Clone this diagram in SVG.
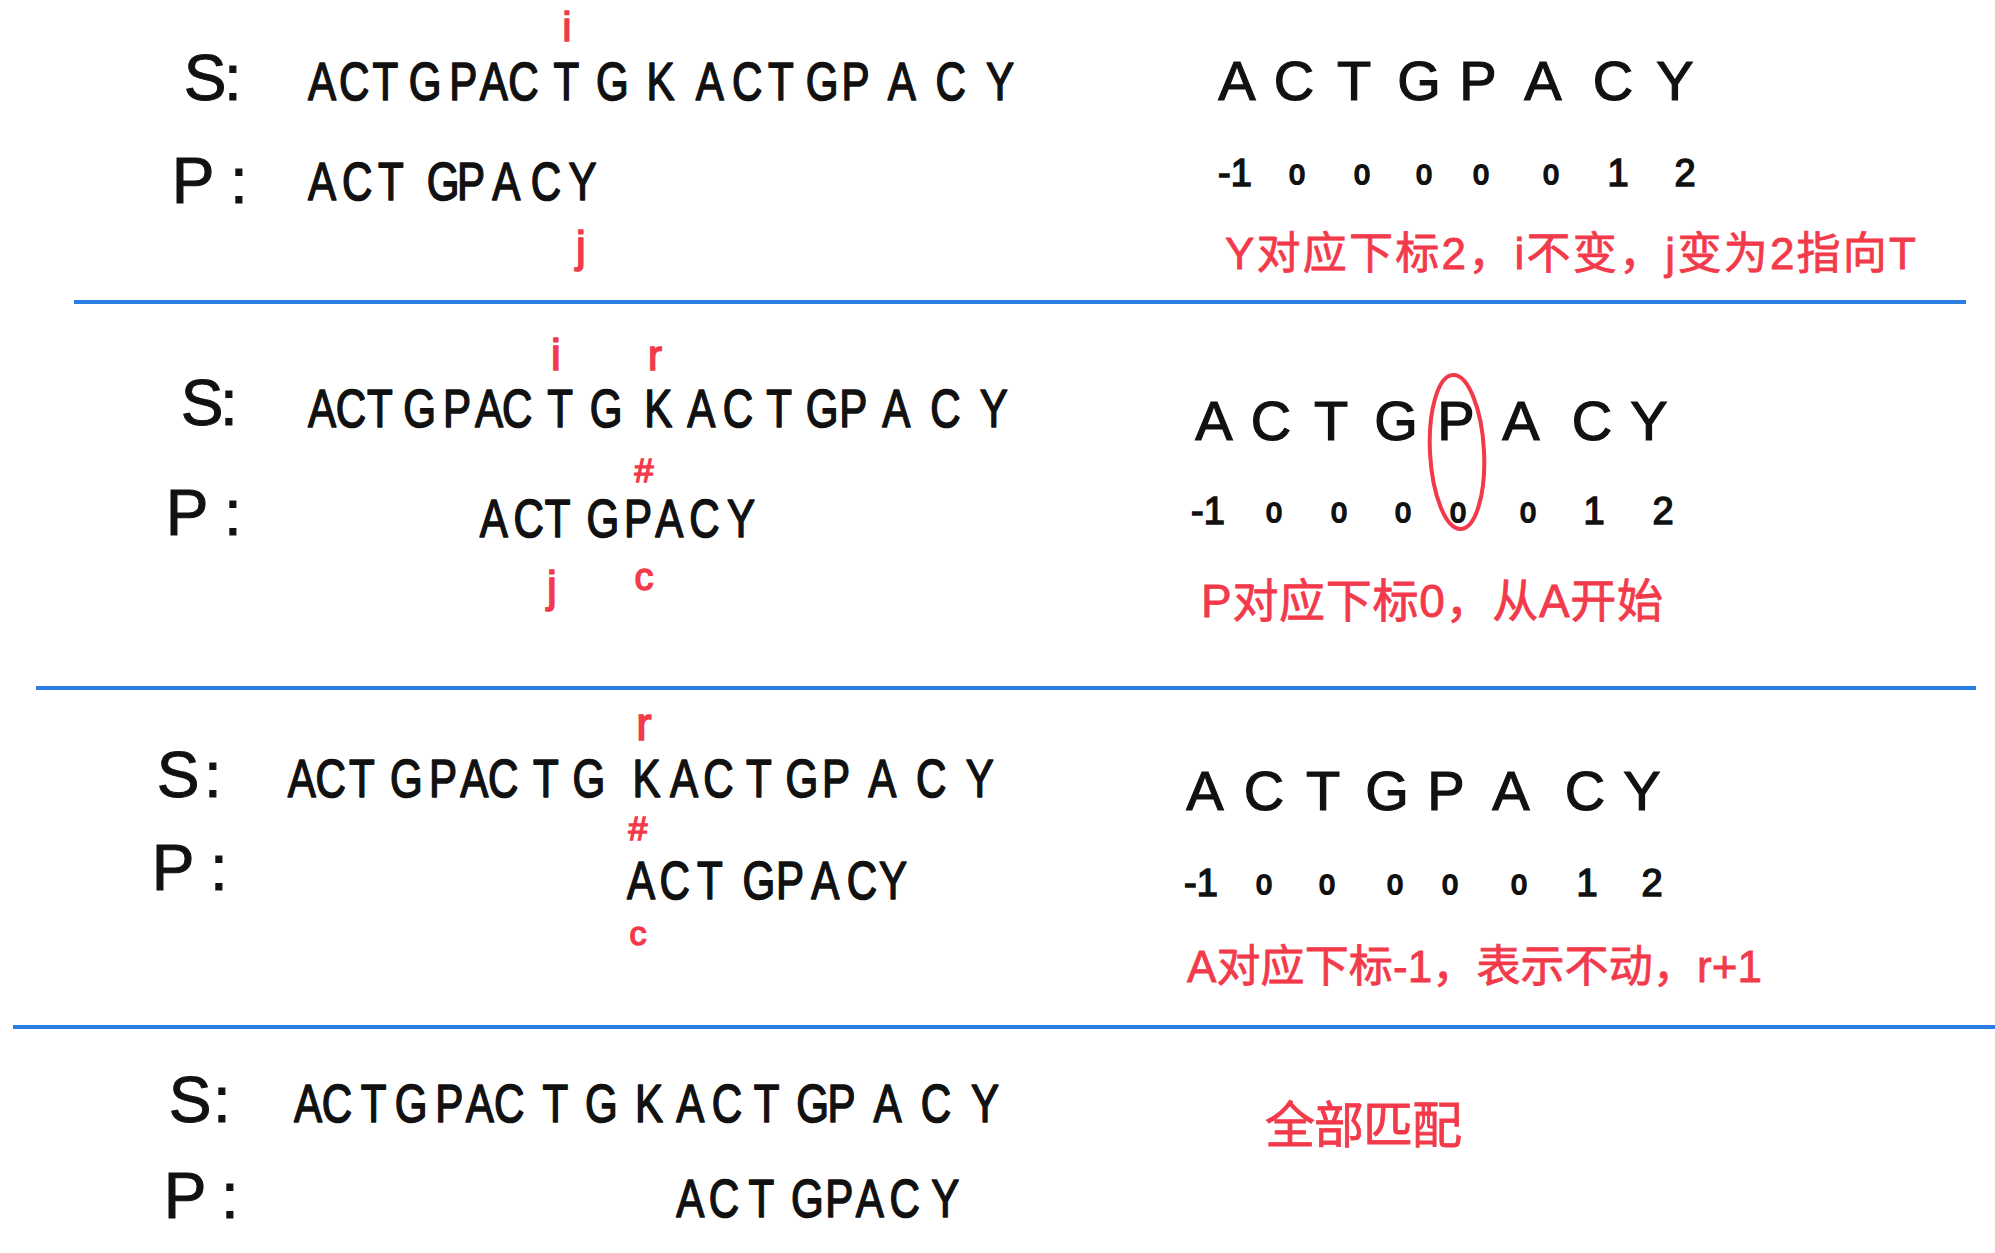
<svg xmlns="http://www.w3.org/2000/svg" width="1995" height="1253" viewBox="0 0 1995 1253">
<style>
.seq{font-family:"Liberation Sans",Arial,sans-serif;font-size:54px;fill:#111;stroke:#111;stroke-width:1.6;stroke-linejoin:round;text-anchor:middle}
.lbl{font-family:"Liberation Sans",Arial,sans-serif;font-size:64px;fill:#111;stroke:#111;stroke-width:1;text-anchor:middle}
.big{font-family:"Liberation Sans",Arial,sans-serif;font-size:56px;fill:#111;stroke:#111;stroke-width:1.2;text-anchor:middle}
.num{font-family:"Liberation Sans",Arial,sans-serif;font-size:38px;fill:#111;stroke:#111;stroke-width:1.5;text-anchor:middle}
.zero{font-family:"Liberation Sans",Arial,sans-serif;font-size:28px;fill:#111;stroke:#111;stroke-width:2;text-anchor:middle}
.mk{font-family:"Liberation Sans",Arial,sans-serif;fill:#f23a4b;stroke:#f23a4b;stroke-width:1.5;text-anchor:middle}
.note{font-family:"Liberation Sans","Noto Sans CJK SC",sans-serif;fill:#f23a4b;stroke:#f23a4b;stroke-width:0.8}
.sep{stroke:#2a7de1;stroke-width:4;fill:none}
</style>

<g id="separators">
<line class="sep" x1="74" y1="302" x2="1966" y2="302"/>
<line class="sep" x1="36" y1="688" x2="1976" y2="688"/>
<line class="sep" x1="13" y1="1027" x2="1995" y2="1027"/>
</g>

<g id="step1">
<text class="lbl" x="205" y="100">S</text><text class="lbl" x="233" y="100">:</text>
<text class="lbl" x="193" y="203">P</text><text class="lbl" x="239" y="203">:</text>
<g transform="scale(0.78 1)">
<text class="seq" x="413 454 494 545 594 633 671 726 785 847 910 958 1001 1054 1097 1156 1219 1282" y="100">ACTGPACTGKACTGPACY</text>
<text class="seq" x="413 458 501 568 604 649 700 747" y="200">ACTGPACY</text>
</g>
<text class="mk" x="567" y="41" font-size="40">i</text>
<text class="mk" x="581" y="262" font-size="44">j</text>
<text class="big" x="1237 1294 1354 1419 1478 1543 1613 1675" y="100">ACTGPACY</text>
<text class="num" x="1235" y="186">-1</text>
<text class="zero" x="1297" y="184">0</text><text class="zero" x="1362" y="184">0</text><text class="zero" x="1424" y="184">0</text><text class="zero" x="1481" y="184">0</text><text class="zero" x="1551" y="184">0</text>
<text class="num" x="1618" y="186">1</text><text class="num" x="1685" y="186">2</text>
<text class="note" x="1225" y="269" font-size="44" textLength="691">Y对应下标2，i不变，j变为2指向T</text>
</g>

<g id="step2">
<text class="lbl" x="202" y="425">S</text><text class="lbl" x="229" y="425">:</text>
<text class="lbl" x="187" y="535">P</text><text class="lbl" x="233" y="535">:</text>
<g transform="scale(0.78 1)">
<text class="seq" x="413 450 487 538 586 627 663 718 777 844 899 946 999 1054 1094 1149 1212 1274" y="427">ACTGPACTGKACTGPACY</text>
<text class="seq" x="633 678 715 773 818 858 903 950" y="537">ACTGPACY</text>
</g>
<text class="mk" x="556" y="370" font-size="44">i</text>
<text class="mk" x="655" y="370" font-size="42">r</text>
<text class="mk" x="644" y="482" font-size="34">#</text>
<text class="mk" x="552" y="602" font-size="44">j</text>
<text class="mk" x="644" y="590" font-size="38">c</text>
<text class="big" x="1214 1271 1331 1396 1456 1521 1592 1649" y="440">ACTGPACY</text>
<text class="num" x="1208" y="524">-1</text>
<text class="zero" x="1274" y="522">0</text><text class="zero" x="1339" y="522">0</text><text class="zero" x="1403" y="522">0</text><text class="zero" x="1458" y="522">0</text><text class="zero" x="1528" y="522">0</text>
<text class="num" x="1594" y="524">1</text><text class="num" x="1663" y="524">2</text>
<ellipse cx="1457" cy="452" rx="27" ry="77" fill="none" stroke="#f23a4b" stroke-width="4" transform="rotate(-3 1457 452)"/>
<text class="note" x="1201" y="617" font-size="46" textLength="462">P对应下标0，从A开始</text>
</g>

<g id="step3">
<text class="lbl" x="178" y="797">S</text><text class="lbl" x="213" y="797">:</text>
<text class="lbl" x="173" y="890">P</text><text class="lbl" x="219" y="890">:</text>
<g transform="scale(0.78 1)">
<text class="seq" x="387 424 464 521 568 608 645 700 755 829 877 921 973 1028 1072 1131 1194 1256" y="797">ACTGPACTGKACTGPACY</text>
<text class="seq" x="822 865 910 973 1013 1058 1105 1145" y="899">ACTGPACY</text>
</g>
<text class="mk" x="644" y="740" font-size="46">r</text>
<text class="mk" x="638" y="840" font-size="34">#</text>
<text class="mk" x="638" y="945" font-size="34">c</text>
<text class="big" x="1205 1264 1323 1387 1446 1511 1585 1642" y="810">ACTGPACY</text>
<text class="num" x="1201" y="896">-1</text>
<text class="zero" x="1264" y="894">0</text><text class="zero" x="1327" y="894">0</text><text class="zero" x="1395" y="894">0</text><text class="zero" x="1450" y="894">0</text><text class="zero" x="1519" y="894">0</text>
<text class="num" x="1587" y="896">1</text><text class="num" x="1652" y="896">2</text>
<text class="note" x="1187" y="982" font-size="44" textLength="575">A对应下标-1，表示不动，r+1</text>
</g>

<g id="step4">
<text class="lbl" x="190" y="1122">S</text><text class="lbl" x="222" y="1122">:</text>
<text class="lbl" x="185" y="1218">P</text><text class="lbl" x="230" y="1218">:</text>
<g transform="scale(0.78 1)">
<text class="seq" x="395 432 479 527 576 615 653 712 771 832 885 932 983 1042 1079 1138 1200 1263" y="1122">ACTGPACTGKACTGPACY</text>
<text class="seq" x="885 928 976 1035 1076 1115 1160 1212" y="1217">ACTGPACY</text>
</g>
<text class="note" x="1265" y="1143" font-size="50" textLength="197">全部匹配</text>
</g>
</svg>
